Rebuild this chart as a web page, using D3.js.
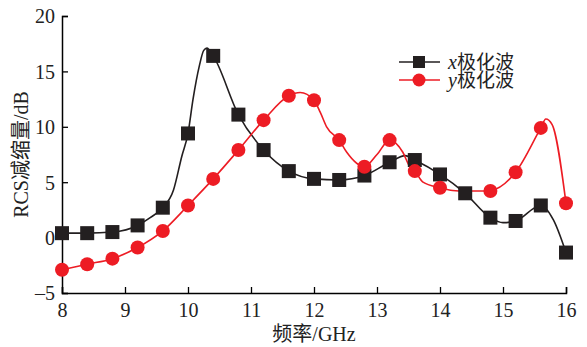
<!DOCTYPE html>
<html><head><meta charset="utf-8">
<script src="https://cdn.jsdelivr.net/npm/d3@7/dist/d3.min.js"></script>
<style>body{margin:0;background:#fff}</style>
</head><body>
<svg id="c" width="587" height="347"></svg>
<script>
// marker data (every 0.4 GHz)
const freqX = [8,8.4,8.8,9.2,9.6,10.0,10.4,10.8,11.2,11.6,12.0,12.4,12.8,13.2,13.6,14.0,14.4,14.8,15.2,15.6,16.0];
const xPol  = [0.4,0.4,0.5,1.1,2.7,9.4,16.4,11.1,7.9,6.0,5.3,5.2,5.6,6.8,7.0,5.7,4.0,1.8,1.5,2.9,-1.35];
const freqY = [8,8.4,8.8,9.2,9.6,10.0,10.4,10.8,11.2,11.6,12.0,12.4,12.8,13.2,13.6,14.0,14.8,15.2,15.6,16.0];
const yPol  = [-2.9,-2.4,-1.9,-0.9,0.6,2.9,5.3,7.9,10.6,12.8,12.4,8.8,6.4,8.8,6.0,4.5,4.2,5.9,9.9,3.1];
// curve data (measured traces)
const xCurveF = [8,8.4,8.8,9.2,9.4,9.6,9.77,9.9,10.0,10.08,10.18,10.25,10.3,10.4,10.8,11.2,11.6,12.0,12.4,12.8,13.2,13.45,13.6,14.0,14.4,14.8,15.0,15.2,15.6,15.8,16.0];
const xCurveV = [0.4,0.4,0.5,1.1,1.8,2.7,4.3,7.3,9.4,12.5,15.5,16.9,17.1,16.4,11.1,7.9,6.0,5.3,5.2,5.6,6.8,7.4,7.0,5.7,4.0,1.8,1.35,1.5,2.9,1.6,-1.35];
const yCurveF = [8,8.4,8.8,9.2,9.6,10.0,10.4,10.8,11.2,11.6,11.78,12.0,12.1,12.2,12.4,12.52,12.8,13.0,13.2,13.41,13.52,13.6,13.73,14.0,14.2,14.4,14.6,14.8,15.2,15.6,15.68,15.78,16.0];
const yCurveV = [-2.9,-2.4,-1.9,-0.9,0.6,2.9,5.3,7.9,10.6,12.8,13.1,12.4,11.3,10.0,8.8,7.7,6.4,7.5,8.8,7.7,6.4,6.0,5.0,4.5,4.25,4.2,4.2,4.25,5.9,9.9,10.7,10.2,3.1];
const xTicks = [8,9,10,11,12,13,14,15,16];
const yTicks = [-5,0,5,10,15,20];
const legendLabels = ["x","y"];

const svg = d3.select("#c");
const m = {l:62, t:16, r:21, b:54};
const W = 587, H = 347;
const x = d3.scaleLinear().domain([8,16]).range([m.l, W-m.r]);
const y = d3.scaleLinear().domain([-5,20]).range([H-m.b, m.t]);
const serif = "'Liberation Serif','Times New Roman','Noto Sans CJK SC',serif";

const line = d3.line().x(d=>x(d[0])).y(d=>y(d[1])).curve(d3.curveMonotoneX);
const blackC = "#231f20", redC = "#ed1c24";

// axes
const gx = svg.append("g").attr("transform",`translate(0,${H-m.b})`)
  .call(d3.axisBottom(x).tickValues(xTicks).tickSize(-6).tickPadding(10).tickFormat(d3.format("d")));
const gy = svg.append("g").attr("transform",`translate(${m.l},0)`)
  .call(d3.axisLeft(y).tickValues(yTicks).tickSize(-6).tickPadding(7).tickFormat(d=> d<0 ? "\u2013"+Math.abs(d) : d));
[gx,gy].forEach(g=>{
  g.select(".domain").attr("stroke","#000").attr("stroke-width",1.5);
  g.selectAll(".tick line").attr("stroke","#000").attr("stroke-width",1.3);
  g.selectAll(".tick text").attr("font-family",serif).attr("font-size",20).attr("fill","#222");
});
gy.selectAll(".tick text").attr("dy","0.34em");

// lines
const xData = xCurveF.map((f,i)=>[f,xCurveV[i]]);
const yData = yCurveF.map((f,i)=>[f,yCurveV[i]]);
svg.append("path").datum(xData).attr("d",line).attr("fill","none").attr("stroke",blackC).attr("stroke-width",1.6);
svg.append("path").datum(yData).attr("d",line).attr("fill","none").attr("stroke",redC).attr("stroke-width",1.6);

// markers
const sq = 14, r = 7;
svg.append("g").selectAll("rect").data(freqX.map((f,i)=>[f,xPol[i]])).join("rect")
  .attr("x",d=>x(d[0])-sq/2).attr("y",d=>y(d[1])-sq/2).attr("width",sq).attr("height",sq).attr("fill",blackC);
svg.append("g").selectAll("circle").data(freqY.map((f,i)=>[f,yPol[i]])).join("circle")
  .attr("cx",d=>x(d[0])).attr("cy",d=>y(d[1])).attr("r",r).attr("fill",redC);

// legend
const lg = svg.append("g");
legendLabels.forEach((lab,i)=>{
  const yy = 62 + i*18;
  const col = i===0 ? blackC : redC;
  lg.append("line").attr("x1",399).attr("x2",440).attr("y1",yy).attr("y2",yy).attr("stroke",col).attr("stroke-width",1.6);
  if(i===0) lg.append("rect").attr("x",419-6).attr("y",yy-6).attr("width",12).attr("height",12).attr("fill",col);
  else lg.append("circle").attr("cx",419).attr("cy",yy).attr("r",6.5).attr("fill",col);
  const t = lg.append("text").attr("x",448).attr("y",yy).attr("dy","0.35em").attr("font-size",20).attr("fill","#222");
  t.append("tspan").attr("font-family",serif).attr("font-style","italic").text(lab);
  t.append("tspan").attr("font-family","'Noto Sans CJK SC',sans-serif").attr("font-size",19).text("极化波");
});

// axis titles
svg.append("text").attr("x",(m.l+W-m.r)/2).attr("y",341).attr("text-anchor","middle")
  .attr("font-family",serif).attr("font-size",20).attr("fill","#222").text("频率/GHz");
svg.append("text").attr("transform",`translate(28,${(m.t+H-m.b)/2}) rotate(-90)`).attr("text-anchor","middle")
  .attr("font-family",serif).attr("font-size",20).attr("fill","#222").text("RCS减缩量/dB");
</script>
</body></html>
